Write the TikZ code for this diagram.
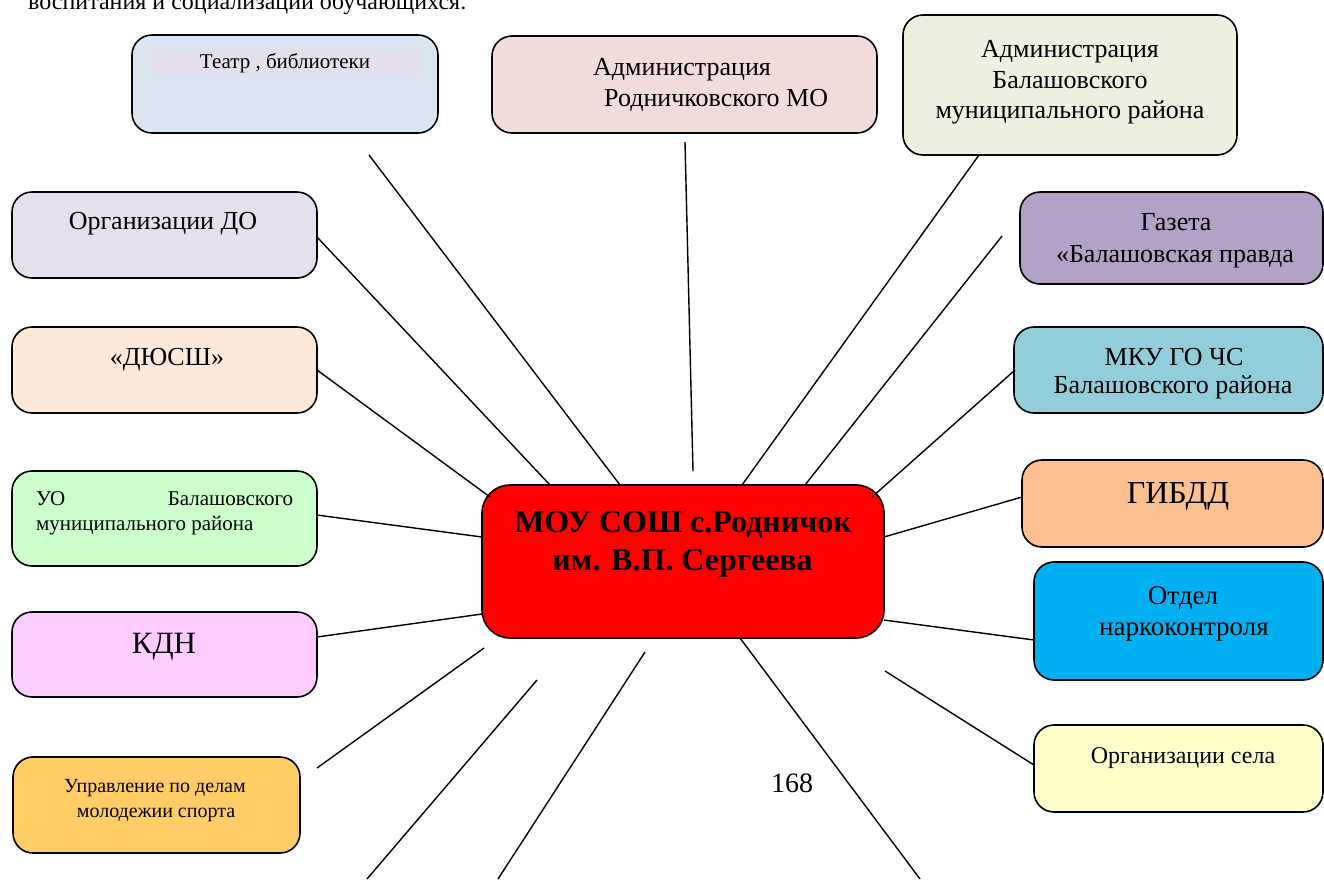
\documentclass[tikz,border=0pt]{standalone}
\usepackage{fontspec}
\setmainfont{Liberation Serif}
\definecolor{cTeatr}{HTML}{DBE5F1}
\definecolor{cBand}{HTML}{E5DFEC}
\definecolor{cAdmRod}{HTML}{F2DCDB}
\definecolor{cAdmBal}{HTML}{EBF1DE}
\definecolor{cOrgDo}{HTML}{E5E0EC}
\definecolor{cDyussh}{HTML}{FDE9D9}
\definecolor{cUo}{HTML}{CCFFCC}
\definecolor{cKdn}{HTML}{FFCCFF}
\definecolor{cUprav}{HTML}{FFCC66}
\definecolor{cGazeta}{HTML}{B2A2C7}
\definecolor{cMku}{HTML}{92CDDC}
\definecolor{cGibdd}{HTML}{FAC090}
\definecolor{cOtdel}{HTML}{00B0F0}
\definecolor{cOrgSela}{HTML}{FFFFCC}
\definecolor{cMoy}{HTML}{FF0000}
\begin{document}
\begin{tikzpicture}[x=1pt,y=-1pt,
  box/.style={draw=black, line width=1.6pt, rounded corners=20pt, inner sep=0pt},
  conn/.style={draw=black, line width=1.4pt},
  lbl/.style={inner sep=0pt, anchor=base, text=black},
  fA/.style={font=\fontsize{26}{30}\selectfont},
  fS/.style={font=\fontsize{21}{25}\selectfont},
  fU/.style={font=\fontsize{20}{24}\selectfont},
  fB/.style={font=\fontsize{31}{36}\selectfont},
]
\useasboundingbox (0,0) rectangle (1324,879);

% top running text (cut by the page edge)
\node[lbl, font=\fontsize{24}{28}\selectfont, anchor=base west] (toptext) at (28,9) {воспитания и социализации обучающихся.};

% boxes
\node[box, fill=cTeatr,   minimum width=306pt, minimum height=98pt] (teatr)   at (285,84) {};
\fill[cBand] (152,49) rectangle (420,74);
\node[box, fill=cAdmRod,  minimum width=385pt, minimum height=97pt] (admrod)  at (684.5,84.5) {};
\node[box, fill=cAdmBal,  minimum width=334pt, minimum height=140pt] (admbal) at (1070,85) {};
\node[box, fill=cOrgDo,   minimum width=305pt, minimum height=86pt] (orgdo)   at (164.5,235) {};
\node[box, fill=cDyussh,  minimum width=305pt, minimum height=86pt] (dyussh)  at (164.5,370) {};
\node[box, fill=cUo,      minimum width=305pt, minimum height=95pt] (uo)      at (164.5,518.5) {};
\node[box, fill=cKdn,     minimum width=305pt, minimum height=85pt] (kdn)     at (164.5,654.5) {};
\node[box, fill=cUprav,   minimum width=287pt, minimum height=96pt] (uprav)   at (156.5,805) {};
\node[box, fill=cGazeta,  minimum width=303pt, minimum height=92pt] (gazeta)  at (1171.5,238) {};
\node[box, fill=cMku,     minimum width=309pt, minimum height=86pt] (mku)     at (1168.5,370) {};
\node[box, fill=cGibdd,   minimum width=301pt, minimum height=87pt] (gibdd)   at (1172.5,503.5) {};
\node[box, fill=cOtdel,   minimum width=289pt, minimum height=118pt] (otdel)  at (1178.5,621) {};
\node[box, fill=cOrgSela, minimum width=289pt, minimum height=87pt] (orgsela) at (1178.5,768.5) {};
\node[box, fill=cMoy, rounded corners=28pt, minimum width=402pt, minimum height=153pt] (moy) at (683,561.5) {};

% texts
\node[lbl, fS] (teatr-t) at (285,68) {Театр , библиотеки};
\node[lbl, fA, anchor=base west] (admrod-t1) at (593,75) {Администрация};
\node[lbl, fA, anchor=base west] (admrod-t2) at (604,106) {Родничковского МО};
\node[lbl, fA] (admbal-t1) at (1070,57) {Администрация};
\node[lbl, fA] (admbal-t2) at (1070,88) {Балашовского};
\node[lbl, fA] (admbal-t3) at (1070,118) {муниципального района};
\node[lbl, fA] (orgdo-t) at (163,229) {Организации ДО};
\node[lbl, fA] (dyussh-t) at (167,365) {«ДЮСШ»};
\node[lbl, fS, anchor=base west, text width=257pt] (uo-t1) at (36,505) {УО\hfill Балашовского};
\node[lbl, fS, anchor=base west] (uo-t2) at (36,530) {муниципального района};
\node[lbl, fB] (kdn-t) at (164,653) {КДН};
\node[lbl, fU] (uprav-t1) at (155,792) {Управление по делам};
\node[lbl, fU] (uprav-t2) at (156,817) {молодежии спорта};
\node[lbl, fA] (gazeta-t1) at (1176,230) {Газета};
\node[lbl, fA] (gazeta-t2) at (1175,262) {«Балашовская правда};
\node[lbl, fA] (mku-t1) at (1174,365) {МКУ ГО ЧС};
\node[lbl, fA] (mku-t2) at (1173,393) {Балашовского района};
\node[lbl, font=\fontsize{32}{36}\selectfont] (gibdd-t) at (1178,503) {ГИБДД};
\node[lbl, font=\fontsize{27}{31}\selectfont] (otdel-t1) at (1183,604) {Отдел};
\node[lbl, font=\fontsize{27}{31}\selectfont] (otdel-t2) at (1184,635) {наркоконтроля};
\node[lbl, font=\fontsize{24}{28}\selectfont] (orgsela-t) at (1183,763) {Организации села};
\node[lbl, font=\bfseries\fontsize{32}{36}\selectfont] (moy-t1) at (683,532) {МОУ СОШ с.Родничок};
\node[lbl, font=\bfseries\fontsize{32}{36}\selectfont] (moy-t2) at (682.5,570) {им. В.П. Сергеева};
\node[lbl, font=\fontsize{28}{32}\selectfont] (page) at (792,792) {168};

% connector end points
\coordinate (pTeatr)   at (369,155);
\coordinate (mTeatr)   at (620,485);
\coordinate (pOrgDo)   at (317,237);
\coordinate (mOrgDo)   at (550,485);
\coordinate (pDyussh)  at (317,370);
\coordinate (mDyussh)  at (490,497);
\coordinate (pAdmRod)  at (685,142);
\coordinate (qAdmRod)  at (693,471);
\coordinate (pAdmBal)  at (979,155);
\coordinate (mAdmBal)  at (742,485);
\coordinate (pGazeta)  at (1002,236);
\coordinate (mGazeta)  at (805,485);
\coordinate (pMku)     at (1015,370);
\coordinate (mMku)     at (872,497);
\coordinate (pGibdd)   at (1022,497);
\coordinate (mGibdd)   at (884,537);
\coordinate (pOtdel)   at (1034,640);
\coordinate (mOtdel)   at (884,620);
\coordinate (pOrgSela) at (1034,765);
\coordinate (qOrgSela) at (885,671);
\coordinate (pUo)      at (317,515);
\coordinate (mUo)      at (482,537);
\coordinate (pKdn)     at (317,637);
\coordinate (mKdn)     at (482,614);
\coordinate (pUprav)   at (317,768);
\coordinate (qUprav)   at (484,648);
\coordinate (qB1)      at (537,680);
\coordinate (eB1)      at (367,879);
\coordinate (qB2)      at (645,652);
\coordinate (eB2)      at (498,879);
\coordinate (mB3)      at (740,638);
\coordinate (eB3)      at (920,879);

% connectors
\draw[conn] (pTeatr) -- (mTeatr);
\draw[conn] (pOrgDo) -- (mOrgDo);
\draw[conn] (pDyussh) -- (mDyussh);
\draw[conn] (pAdmRod) -- (qAdmRod);
\draw[conn] (pAdmBal) -- (mAdmBal);
\draw[conn] (pGazeta) -- (mGazeta);
\draw[conn] (pMku) -- (mMku);
\draw[conn] (pGibdd) -- (mGibdd);
\draw[conn] (pOtdel) -- (mOtdel);
\draw[conn] (pOrgSela) -- (qOrgSela);
\draw[conn] (pUo) -- (mUo);
\draw[conn] (pKdn) -- (mKdn);
\draw[conn] (pUprav) -- (qUprav);
\draw[conn] (qB1) -- (eB1);
\draw[conn] (qB2) -- (eB2);
\draw[conn] (mB3) -- (eB3);
\end{tikzpicture}
\end{document}
